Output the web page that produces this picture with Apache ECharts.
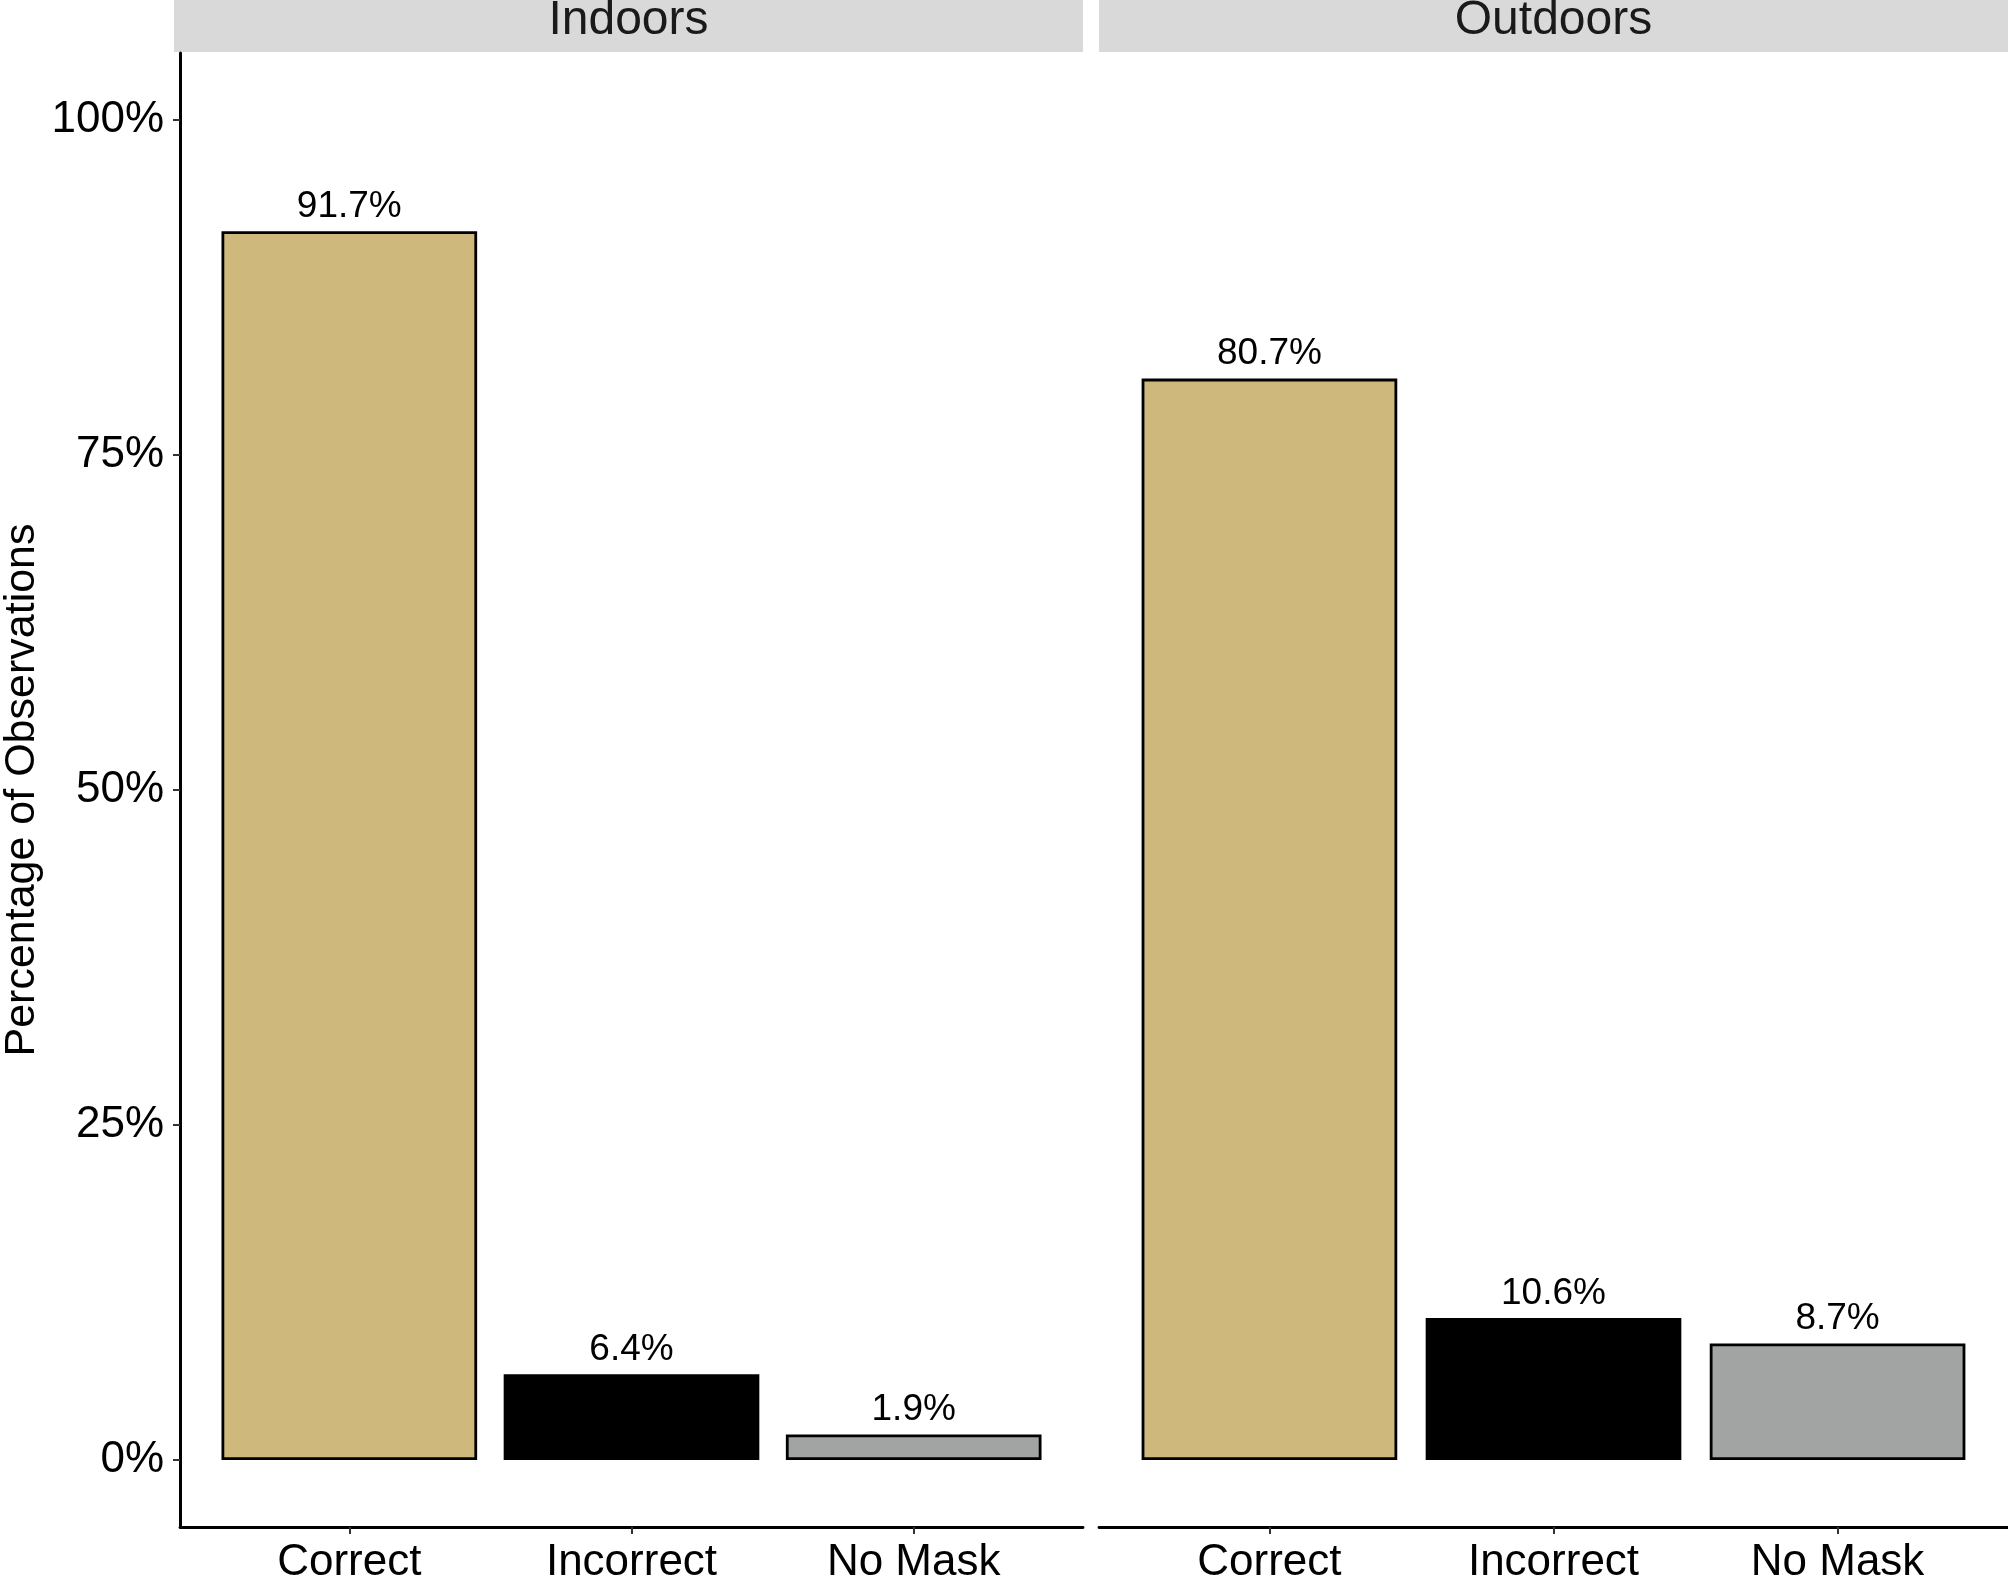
<!DOCTYPE html>
<html>
<head>
<meta charset="utf-8">
<script src="https://cdn.jsdelivr.net/npm/echarts@6/dist/echarts.min.js"></script>
<style>
html,body{margin:0;padding:0;background:#fff;}
#c{width:2008px;height:1585px;}
</style>
</head>
<body>
<div id="c"></div>
<script>
const categories = ['Correct', 'Incorrect', 'No Mask'];
const panels = ['Indoors', 'Outdoors'];
const indoorsValues = [91.7, 6.4, 1.9];
const outdoorsValues = [80.7, 10.6, 8.7];
const yTicks = [0, 25, 50, 75, 100];
const barColors = ['#CFB87C', '#000000', '#A2A4A3'];

const FONT = 'Liberation Sans, Arial, Helvetica, sans-serif';
const panelGeom = [{left: 174, width: 909}, {left: 1099, width: 909}];
const gridTop = 53, gridBottom = 46;
const xMin = 0.4, xMax = 3.6;
const barW = 0.9 * panelGeom[0].width / (xMax - xMin);

const chart = echarts.init(document.getElementById('c'), null, {renderer: 'canvas'});

function makeSeries(vals, i) {
  return {
    type: 'bar',
    xAxisIndex: i, yAxisIndex: i,
    barWidth: barW,
    data: vals.map((v, k) => ({
      value: [k + 1, v],
      itemStyle: {color: barColors[k], borderColor: '#000', borderWidth: 2.8}
    })),
    label: {
      show: true, position: 'top', distance: 6,
      fontFamily: FONT, fontSize: 37, color: '#000',
      formatter: p => p.value[1].toFixed(1) + '%'
    },
    silent: true
  };
}

const option = {
  backgroundColor: '#fff',
  animation: false,
  grid: panelGeom.map(g => ({left: g.left, width: g.width, top: gridTop, bottom: gridBottom, containLabel: false})),
  xAxis: panelGeom.map((g, i) => ({
    type: 'value', gridIndex: i, min: xMin, max: xMax,
    axisLine: {show: true, onZero: false, lineStyle: {color: '#000', width: 2.8}},
    axisTick: {show: true, customValues: [1, 2, 3], length: 7, lineStyle: {color: '#333', width: 2}},
    axisLabel: {show: true, customValues: [1, 2, 3], margin: 14, fontFamily: FONT, fontSize: 44, color: '#000',
      formatter: v => categories[Math.round(v) - 1]},
    splitLine: {show: false}
  })),
  yAxis: panelGeom.map((g, i) => ({
    type: 'value', gridIndex: i, min: -5, max: 105,
    name: i === 0 ? 'Percentage of Observations' : '',
    nameLocation: 'middle', nameRotate: 90, nameGap: 136,
    nameTextStyle: {fontFamily: FONT, fontSize: 43, color: '#000'},
    axisLine: {show: i === 0, lineStyle: {color: '#000', width: 3}},
    axisTick: {show: i === 0, customValues: yTicks, length: 7, lineStyle: {color: '#333', width: 2}},
    axisLabel: {show: i === 0, customValues: yTicks, margin: 16, fontFamily: FONT, fontSize: 44, color: '#000',
      formatter: v => v + '%'},
    splitLine: {show: false}
  })),
  graphic: panelGeom.flatMap((g, i) => [
    {type: 'rect', shape: {x: g.left, y: 0, width: g.width, height: gridTop - 1}, style: {fill: '#D9D9D9'}, silent: true},
    {type: 'text', x: g.left + g.width / 2, y: 21,
      style: {text: panels[i], fontFamily: FONT, fontSize: 48, fill: '#1a1a1a', align: 'center', verticalAlign: 'middle'}, silent: true}
  ]),
  series: [makeSeries(indoorsValues, 0), makeSeries(outdoorsValues, 1)]
};
chart.setOption(option);
</script>
</body>
</html>
